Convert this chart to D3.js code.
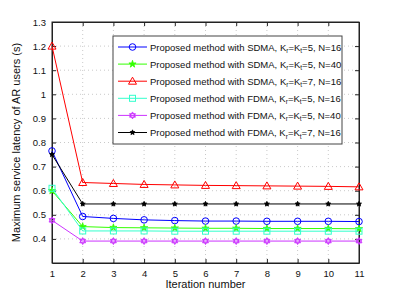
<!DOCTYPE html>
<html><head><meta charset="utf-8">
<script src="https://cdn.jsdelivr.net/npm/d3@7"></script>
<style>body{margin:0;background:#fff}svg{display:block}text{font-family:"Liberation Sans",Arial,sans-serif}</style>
</head><body>
<script>
const iterations = [1,2,3,4,5,6,7,8,9,10,11];
const yTicks = [0.4,0.5,0.6,0.7,0.8,0.9,1.0,1.1,1.2,1.3];
const sdmaK5N16 = [0.765,0.493,0.485,0.479,0.476,0.474,0.474,0.473,0.473,0.473,0.472];
const sdmaK5N40 = [0.600,0.451,0.447,0.446,0.445,0.444,0.444,0.443,0.443,0.443,0.442];
const sdmaK7N16 = [1.200,0.634,0.630,0.626,0.624,0.622,0.621,0.620,0.619,0.618,0.616];
const fdmaK5N16 = [0.610,0.433,0.433,0.433,0.432,0.432,0.432,0.432,0.432,0.432,0.432];
const fdmaK5N40 = [0.477,0.391,0.391,0.391,0.391,0.391,0.391,0.391,0.391,0.391,0.391];
const fdmaK7N16 = [0.750,0.545,0.545,0.545,0.545,0.545,0.545,0.545,0.545,0.545,0.545];
const seriesNames = [
  ["Proposed method with SDMA, K","r","=K","t","=5, N=16"],
  ["Proposed method with SDMA, K","r","=K","t","=5, N=40"],
  ["Proposed method with SDMA, K","r","=K","t","=7, N=16"],
  ["Proposed method with FDMA, K","r","=K","t","=5, N=16"],
  ["Proposed method with FDMA, K","r","=K","t","=5, N=40"],
  ["Proposed method with FDMA, K","r","=K","t","=7, N=16"]
];
const seriesColors = ["#0000ff","#33ff00","#ff0000","#33ffcc","#cc33ff","#000000"];
const seriesMarkers = ["circle","star","triangle","square","hex","dot"];
const seriesValues = [sdmaK5N16,sdmaK5N40,sdmaK7N16,fdmaK5N16,fdmaK5N40,fdmaK7N16];

const W=397,H=297;
const m={l:52,r:38,t:22,b:34};
const svg=d3.select("body").append("svg").attr("width",W).attr("height",H);
const x=d3.scaleLinear().domain([1,11]).range([m.l,W-m.r]);
const y=d3.scaleLinear().domain([0.3,1.3]).range([H-m.b,m.t]);
const x0=m.l,x1=W-m.r,y0=H-m.b,y1=m.t;

// grid
const g=svg.append("g");
g.selectAll(".gx").data(iterations.slice(1,-1)).join("line")
 .attr("x1",d=>x(d)).attr("x2",d=>x(d)).attr("y1",y0).attr("y2",y1)
 .attr("stroke","#bbb").attr("stroke-width",0.8).attr("stroke-dasharray","1,3");
g.selectAll(".gy").data(yTicks.slice(0,-1)).join("line")
 .attr("x1",x0).attr("x2",x1).attr("y1",d=>y(d)).attr("y2",d=>y(d))
 .attr("stroke","#bbb").attr("stroke-width",0.8).attr("stroke-dasharray","1,3");

// axes
const ax=d3.axisBottom(x).tickValues(iterations).tickFormat(d3.format("d")).tickSizeInner(-4).tickSizeOuter(0).tickPadding(7);
const ay=d3.axisLeft(y).tickValues(yTicks).tickFormat(d=>d3.format("")(+d.toFixed(1))).tickSizeInner(-4).tickSizeOuter(0).tickPadding(6);
svg.append("g").attr("transform",`translate(0,${y0})`).call(ax);
svg.append("g").attr("transform",`translate(${x0},0)`).call(ay);
svg.append("g").attr("transform",`translate(0,${y1})`).call(d3.axisTop(x).tickValues(iterations).tickFormat("").tickSizeInner(-4).tickSizeOuter(0));
svg.append("g").attr("transform",`translate(${x1},0)`).call(d3.axisRight(y).tickValues(yTicks).tickFormat("").tickSizeInner(-4).tickSizeOuter(0));
svg.selectAll(".domain").attr("stroke","#222");
svg.selectAll(".tick line").attr("stroke","#222");
svg.selectAll(".tick text").attr("font-size",9.5).attr("fill","#111").attr("font-family","Liberation Sans, Arial, sans-serif");
svg.append("rect").attr("x",x0).attr("y",y1).attr("width",x1-x0).attr("height",y0-y1).attr("fill","none").attr("stroke","#222");

// titles
svg.append("text").attr("x",(x0+x1)/2).attr("y",288).attr("text-anchor","middle").attr("font-size",11).attr("fill","#111").text("Iteration number");
svg.append("text").attr("transform",`translate(20,${(y0+y1)/2}) rotate(-90)`).attr("text-anchor","middle").attr("font-size",11).attr("fill","#111").text("Maximum service latency of AR users (s)");

function marker(sel,type,color){
  if(type==="circle") sel.append("circle").attr("r",3.3).attr("fill","none").attr("stroke",color).attr("stroke-width",1);
  else if(type==="star") sel.append("path").attr("d",d3.symbol(d3.symbolStar,16)()).attr("fill",color).attr("stroke",color).attr("stroke-width",0.8);
  else if(type==="triangle") sel.append("path").attr("d","M0,-4L4,3L-4,3Z").attr("fill","none").attr("stroke",color).attr("stroke-width",1);
  else if(type==="square") sel.append("rect").attr("x",-3).attr("y",-3).attr("width",6).attr("height",6).attr("fill","none").attr("stroke",color).attr("stroke-width",1);
  else if(type==="hex") { sel.append("path").attr("d","M0,-3.5L3,1.75L-3,1.75Z M0,3.5L3,-1.75L-3,-1.75Z").attr("fill",color).attr("stroke",color).attr("stroke-width",0.8);}
  else if(type==="dot") { sel.append("path").attr("d",d3.symbol(d3.symbolStar,8)()).attr("fill",color).attr("stroke",color).attr("stroke-width",0.8); sel.append("circle").attr("r",1.8).attr("fill",color);}
}

const line=d3.line().x((d,i)=>x(iterations[i])).y(d=>y(d));
seriesValues.forEach((vals,k)=>{
  const c=seriesColors[k];
  svg.append("path").datum(vals).attr("d",line).attr("fill","none").attr("stroke",c).attr("stroke-width",1);
  vals.forEach((v,i)=>{
    const gm=svg.append("g").attr("transform",`translate(${x(iterations[i])},${y(v)})`);
    marker(gm,seriesMarkers[k],c);
  });
});

// legend
const lx=113,ly=36,lw=229,lh=108;
svg.append("rect").attr("x",lx).attr("y",ly).attr("width",lw).attr("height",lh).attr("fill","#fff").attr("stroke","#444").attr("stroke-width",1);
seriesNames.forEach((nm,k)=>{
  const yy=ly+11+k*17.1;
  const c=seriesColors[k];
  svg.append("line").attr("x1",lx+5).attr("x2",lx+34).attr("y1",yy).attr("y2",yy).attr("stroke",c).attr("stroke-width",1);
  marker(svg.append("g").attr("transform",`translate(${lx+19.5},${yy})`),seriesMarkers[k],c);
  const t=svg.append("text").attr("x",lx+37).attr("y",yy+3.5).attr("font-size",9.5).attr("fill","#111");
  t.append("tspan").text(nm[0]);
  t.append("tspan").attr("font-size",6.5).attr("dy",2.5).text(nm[1]);
  t.append("tspan").attr("dy",-2.5).text(nm[2]);
  t.append("tspan").attr("font-size",6.5).attr("dy",2.5).text(nm[3]);
  t.append("tspan").attr("dy",-2.5).text(nm[4]);
});
</script>
</body></html>
